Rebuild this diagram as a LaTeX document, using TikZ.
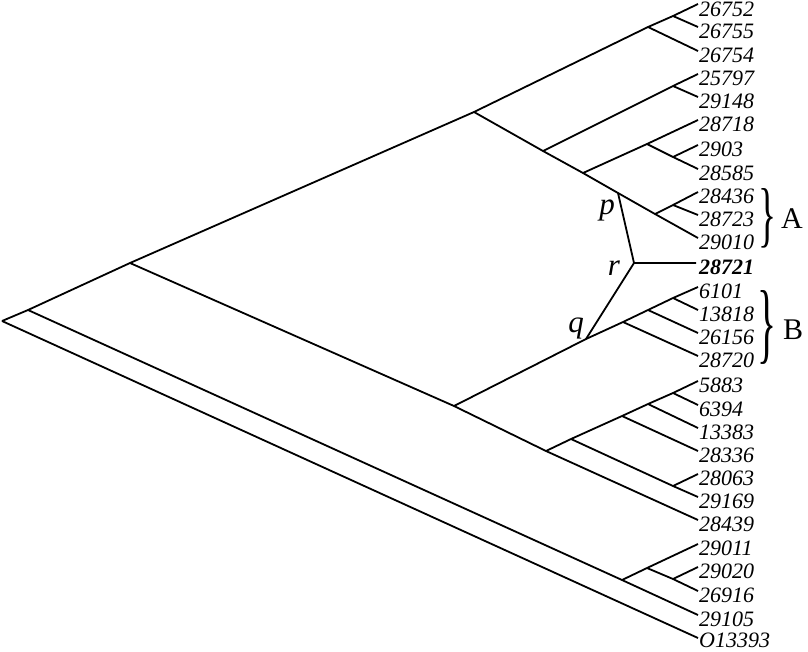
\documentclass[tikz,border=0pt]{standalone}
\usepackage{fontspec}
\setmainfont{Liberation Serif}
\usepackage{graphicx}
\begin{document}
\begin{tikzpicture}[x=1pt,y=-1pt,
  br/.style={line width=1.8pt, line join=round},
  leaf/.style={anchor=base west, inner sep=0pt, font=\fontsize{22}{24}\selectfont\itshape},
  ptlab/.style={anchor=base, inner sep=0pt, font=\fontsize{31}{33}\selectfont\itshape},
  grp/.style={inner sep=0pt, font=\fontsize{30}{32}\selectfont},
  brc/.style={inner sep=0pt}]
\useasboundingbox (0,0) rectangle (808,651);
% leaves
\coordinate (L0) at (698,4);
\node[leaf] (t0) at (699,16.5) {26752};
\foreach \i/\y/\t in {1/27/26755,2/51/26754,3/74/25797,4/97/29148,5/120/28718,
  6/145/2903,7/169/28585,8/192/28436,9/215/28723,10/238/29010,
  12/287/6101,13/310/13818,14/333/26156,15/356/28720,16/381/5883,17/405/6394,
  18/428/13383,19/451/28336,20/474/28063,21/497/29169,22/520/28439,23/544/29011,
  24/567/29020,25/591/26916,26/615/29105}{
  \coordinate (L\i) at (698,\y);
  \node[leaf] (t\i) at (699,{\y+11}) {\t};
}
\coordinate (L27) at (698,638);
\node[leaf] (t27) at (699,647.5) {O13393};
\coordinate (L11) at (696,263);
\node[leaf] (t11) at (699,274) {\bfseries 28721};
% internal nodes
\coordinate (R) at (2,321);
\coordinate (N1) at (28,310);
\coordinate (N2) at (130,263);
\coordinate (N3) at (474,112);
\coordinate (Na) at (648,27);
\coordinate (Nb) at (673,16);
\coordinate (Nf) at (543,151);
\coordinate (Ni) at (673,86);
\coordinate (Ng) at (583,173);
\coordinate (Nj) at (647,144);
\coordinate (Nk) at (673,157);
\coordinate (P) at (618,193);
\coordinate (Nh) at (655,214);
\coordinate (Nl) at (673,205);
\coordinate (Rr) at (634,263);
\coordinate (Q) at (586,339);
\coordinate (Nm) at (454,406);
\coordinate (Nb1) at (623,322);
\coordinate (Nb2) at (648,310);
\coordinate (Nb3) at (673,298);
\coordinate (Nn) at (546,451);
\coordinate (Nr) at (571,439);
\coordinate (Ns) at (622,416);
\coordinate (Nt) at (648,404);
\coordinate (Nu) at (673,393);
\coordinate (Nv) at (673,486);
\coordinate (Nc) at (622,580);
\coordinate (Nd) at (647,568);
\coordinate (Ne) at (673,579);
% branches
\draw[br] (R) -- (N1) -- (N2) -- (N3) -- (Na) -- (Nb) -- (L0);
\draw[br] (R) -- (L27);
\draw[br] (N1) -- (Nc) -- (L26);
\draw[br] (Nc) -- (Nd) -- (L23);
\draw[br] (Nd) -- (Ne) -- (L25);
\draw[br] (Ne) -- (L24);
\draw[br] (Nb) -- (L1);
\draw[br] (Na) -- (L2);
\draw[br] (N3) -- (Nf) -- (Ng) -- (P) -- (Nh) -- (L10);
\draw[br] (Nf) -- (Ni) -- (L3);
\draw[br] (Ni) -- (L4);
\draw[br] (Ng) -- (Nj) -- (L5);
\draw[br] (Nj) -- (Nk) -- (L7);
\draw[br] (Nk) -- (L6);
\draw[br] (Nh) -- (Nl) -- (L8);
\draw[br] (Nl) -- (L9);
\draw[br] (P) -- (Rr) -- (L11);
\draw[br] (Rr) -- (Q);
\draw[br] (N2) -- (Nm) -- (Nn) -- (L22);
\draw[br] (Nm) -- (Q) -- (Nb1) -- (Nb2) -- (Nb3) -- (L12);
\draw[br] (Nb3) -- (L13);
\draw[br] (Nb2) -- (L14);
\draw[br] (Nb1) -- (L15);
\draw[br] (Nn) -- (Nr) -- (Ns) -- (Nt) -- (Nu) -- (L16);
\draw[br] (Nu) -- (L17);
\draw[br] (Nt) -- (L18);
\draw[br] (Ns) -- (L19);
\draw[br] (Nr) -- (Nv) -- (L21);
\draw[br] (Nv) -- (L20);
% point labels
\node[ptlab] (lp) at (607,214) {p};
\node[ptlab] (lr) at (614,275) {r};
\node[ptlab] (lq) at (576,332) {q};
% braces and group labels
\node[brc] (bA) at (767,218) {\resizebox{18pt}{50pt}{\}}};
\node[brc] (bB) at (767,327) {\resizebox{19pt}{62pt}{\}}};
\node[grp] (gA) at (792,219) {A};
\node[grp] (gB) at (793,330) {B};
\end{tikzpicture}
\end{document}
